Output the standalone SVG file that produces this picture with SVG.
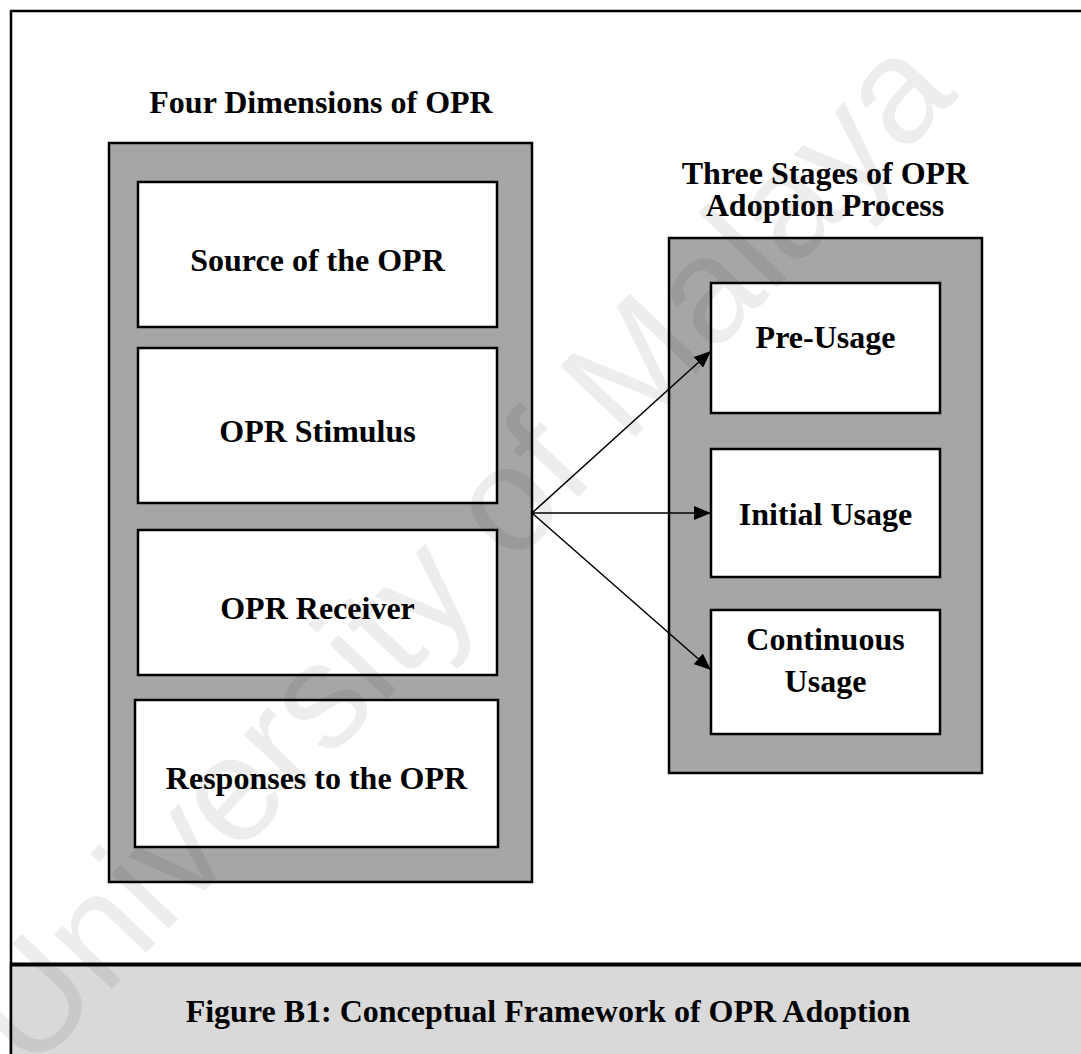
<svg xmlns="http://www.w3.org/2000/svg" width="1081" height="1054" viewBox="0 0 1081 1054">
<style>
.t{font-family:"Liberation Serif","Times New Roman",serif;font-weight:bold;font-size:32px;fill:#000;text-anchor:middle}
.cont{fill:#a6a6a6;stroke:#000;stroke-width:2.5}
.box{fill:#fff;stroke:#000;stroke-width:2.5}
.conn{stroke:#000;stroke-width:1.5;fill:none;marker-end:url(#ah)}
.wm{font-family:"Liberation Sans",Arial,sans-serif;font-size:150px;fill:#000;fill-opacity:0.07}
</style>
<defs>
<marker id="ah" markerUnits="userSpaceOnUse" markerWidth="18" markerHeight="14" refX="17" refY="7" orient="auto">
<path d="M0,0 L17,7 L0,14 Z" fill="#000"/>
</marker>
</defs>
<rect x="0" y="0" width="1081" height="1054" fill="#fff"/>
<g id="frame">
<rect x="11" y="11" width="1100" height="1100" fill="none" stroke="#000" stroke-width="2.5"/>
</g>
<g id="left-container">
<rect class="cont" x="109" y="143" width="423" height="739"/>
<text class="t" x="321" y="113">Four Dimensions of OPR</text>
</g>
<g id="source">
<rect class="box" x="138" y="182" width="359" height="145"/>
<text class="t" x="317.5" y="271">Source of the OPR</text>
</g>
<g id="stimulus">
<rect class="box" x="138" y="348" width="359" height="155"/>
<text class="t" x="317.5" y="442">OPR Stimulus</text>
</g>
<g id="receiver">
<rect class="box" x="138" y="530" width="359" height="145"/>
<text class="t" x="317.5" y="619">OPR Receiver</text>
</g>
<g id="responses">
<rect class="box" x="135" y="700" width="363" height="147"/>
<text class="t" x="316.5" y="789">Responses to the OPR</text>
</g>
<g id="right-container">
<rect class="cont" x="669" y="238" width="313" height="535"/>
<text class="t"><tspan x="825" y="184">Three Stages of OPR</tspan><tspan x="825" y="216">Adoption Process</tspan></text>
</g>
<g id="pre-usage">
<rect class="box" x="711" y="283" width="229" height="130"/>
<text class="t" x="825.5" y="348">Pre-Usage</text>
</g>
<g id="initial-usage">
<rect class="box" x="711" y="449" width="229" height="128"/>
<text class="t" x="825.5" y="525">Initial Usage</text>
</g>
<g id="continuous-usage">
<rect class="box" x="711" y="610" width="229" height="124"/>
<text class="t"><tspan x="825.5" y="650">Continuous</tspan><tspan x="825.5" y="692">Usage</tspan></text>
</g>
<g id="connectors">
<line class="conn" x1="532" y1="513" x2="711" y2="351"/>
<line class="conn" x1="532" y1="513" x2="711" y2="513"/>
<line class="conn" x1="532" y1="513" x2="711" y2="670"/>
</g>
<g id="caption">
<rect x="11" y="965" width="1100" height="100" fill="#d9d9d9"/>
<line x1="11" y1="964.5" x2="1081" y2="964.5" stroke="#000" stroke-width="4"/>
<line x1="11" y1="964" x2="11" y2="1054" stroke="#000" stroke-width="2.5"/>
<text class="t" x="548" y="1022">Figure B1: Conceptual Framework of OPR Adoption</text>
</g>
<g id="watermark">
<text class="wm" transform="translate(30,1075) rotate(-46.5)">University of Malaya</text>
</g>
</svg>
